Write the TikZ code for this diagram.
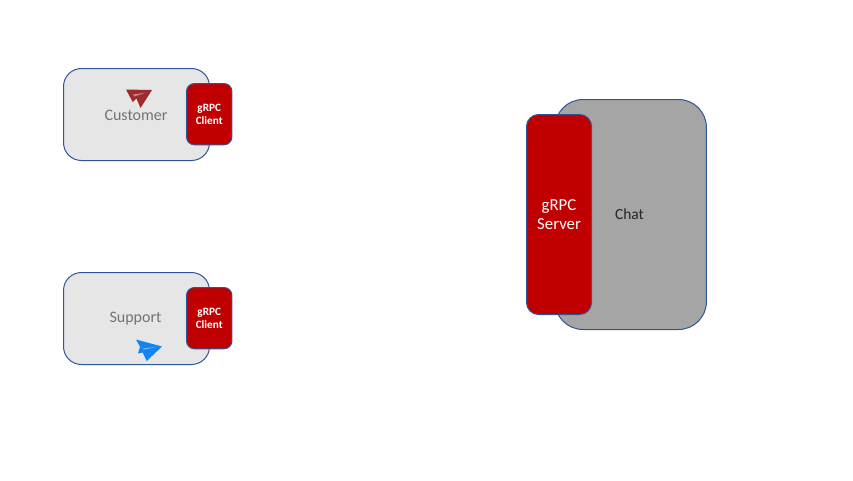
\documentclass[tikz,border=0pt]{standalone}
\usepackage{fontspec}
\setmainfont{Carlito}
\definecolor{edgeblue}{HTML}{2F5597}
\definecolor{grpcred}{HTML}{C00000}
\definecolor{lightbox}{HTML}{E7E6E6}
\definecolor{chatgray}{HTML}{A5A5A5}
\definecolor{planered}{HTML}{9E2A2B}
\definecolor{planeblue}{HTML}{1485F0}
\tikzset{
  x=0.75pt,y=-0.75pt,
  boxbase/.style={draw=edgeblue,line width=0.75pt,anchor=north west,inner sep=0pt,outer sep=0pt},
  appbox/.style={boxbase,fill=lightbox,rounded corners=13.5pt,minimum width=109.5pt,minimum height=69pt},
  chatbox/.style={boxbase,fill=chatgray,rounded corners=21pt,minimum width=113.6pt,minimum height=172.5pt},
  clientbox/.style={boxbase,fill=grpcred,rounded corners=6pt,minimum width=34.1pt,minimum height=46pt,
    text=white,font=\fontsize{8.4pt}{9.8pt}\selectfont\bfseries,align=center},
  serverbox/.style={boxbase,fill=grpcred,rounded corners=9pt,minimum width=48.8pt,minimum height=150pt,
    text=white,font=\fontsize{12.6pt}{14.5pt}\selectfont,align=center},
  applabel/.style={font=\fontsize{12pt}{14pt}\selectfont,text=black!55},
  chatlabel/.style={font=\fontsize{11.6pt}{14pt}\selectfont,text=black!85}
}
\begin{document}
\begin{tikzpicture}
\useasboundingbox (0,0) rectangle (853,480);
\node[appbox] (customer) at (63.5,68.5) {};
\node[appbox] (support) at (63.5,272.5) {};
\node[clientbox] (cclient) at (186.5,83.5) {gRPC\\Client};
\node[clientbox] (sclient) at (186.5,287.5) {gRPC\\Client};
\node[chatbox] (chat) at (555,99.5) {};
\node[serverbox] (server) at (526.5,114.5) {gRPC\\Server};
\node[applabel] (customerlabel) at (136,115) {Customer};
\node[applabel] (supportlabel) at (135.5,319) {Support};
\node[chatlabel] (chatlabel) at (629.5,214.5) {Chat};
\fill[planered] (126,89.5) -- (152,90) -- (140.5,108) -- (136.5,98.5) -- (132.7,102) -- cycle;
\fill[lightbox!50!planered] (133,94.5) -- (145.5,92.7) -- (134.5,96.5) -- cycle;
\fill[planeblue] (136,339.5) -- (162,346.5) -- (146.7,361) -- (142.7,352.5) -- (138,353.5) -- (140,346.7) -- cycle;
\fill[lightbox!50!planeblue] (143,348.5) -- (157,346.8) -- (144,349.7) -- cycle;
\end{tikzpicture}
\end{document}
